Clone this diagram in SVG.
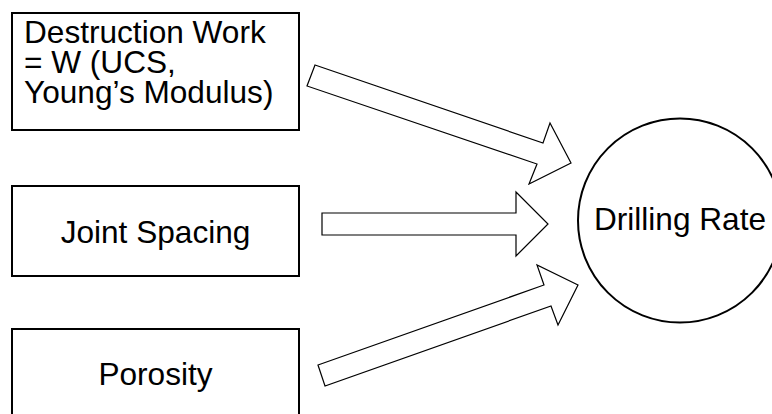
<svg xmlns="http://www.w3.org/2000/svg" width="772" height="414" viewBox="0 0 772 414">
<style>
.box{fill:#fff;stroke:#000;stroke-width:2}
.arr{fill:#fff;stroke:#000;stroke-width:1.2;stroke-linejoin:miter}
text{font-family:"Liberation Sans",Arial,sans-serif;font-size:31.6px;fill:#000}
</style>
<rect width="772" height="414" fill="#fff"/>
<g id="connectors">
<polygon class="arr" points="315,65 543,143 550,123 571,163 529,184 537,164 307,86"/>
<polygon class="arr" points="322,213 516,213 516,192 548,224 516,256 516,235 322,235"/>
<polygon class="arr" points="318,365 544,285 537,265 578,285 558,325 551,306 325,386"/>
</g>
<g id="node-destruction">
<rect class="box" x="12" y="13" width="287" height="117"/>
<text x="24" y="43">Destruction Work</text>
<text x="24" y="73">= W (UCS,</text>
<text x="24" y="103">Young’s Modulus)</text>
</g>
<g id="node-joint">
<rect class="box" x="12" y="186" width="287" height="90"/>
<text x="155.5" y="243" text-anchor="middle">Joint Spacing</text>
</g>
<g id="node-porosity">
<rect class="box" x="12" y="329" width="287" height="92"/>
<text x="155.5" y="385" text-anchor="middle">Porosity</text>
</g>
<g id="node-drilling">
<circle class="box" cx="680" cy="220.5" r="102"/>
<text x="680" y="230" text-anchor="middle">Drilling Rate</text>
</g>
</svg>
